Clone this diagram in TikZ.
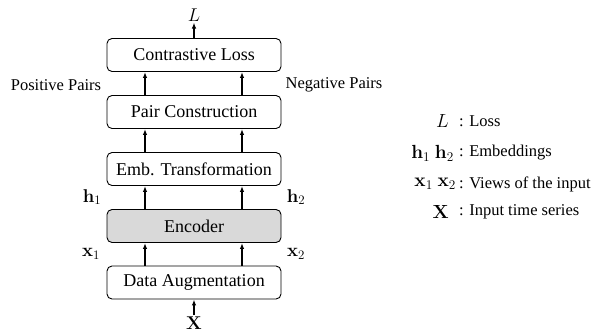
\RequirePackage{fix-cm}
\documentclass[tikz,border=0pt]{standalone}
\usepackage[no-math]{fontspec}
\setmainfont{Liberation Serif}
\usetikzlibrary{arrows.meta}
\definecolor{encgray}{RGB}{217,217,217}
\tikzset{
  blk/.style={draw, line width=0.9pt, rounded corners=5pt, minimum width=174pt, minimum height=33pt, inner sep=0pt, font=\fontsize{18}{20}\selectfont},
  arr/.style={line width=1.4pt, -{Latex[length=6pt,width=4.5pt]}},
  lbl/.style={inner sep=1pt, font=\fontsize{16.5}{19}\selectfont},
  mlbl/.style={inner sep=1pt, font=\fontsize{18.5}{20}\selectfont},
  leg/.style={inner sep=0pt, font=\fontsize{16.5}{20}\selectfont},
  legm/.style={inner sep=0pt, font=\fontsize{19}{22}\selectfont},
}
\begin{document}
\begin{tikzpicture}[x=1pt, y=-1pt]
\useasboundingbox (0,0) rectangle (599,333);
\node[blk] (cl) at (194,55) {Contrastive Loss};
\node[blk] (pc) at (194,112) {Pair Construction};
\node[blk] (et) at (194,169) {Emb. Transformation};
\node[blk, fill=encgray] (enc) at (194,226) {Encoder};
\node[blk] (da) at (194,282.5) {Data Augmentation};
\node[mlbl] (L) at (194,15) {$L$};
\node[mlbl] (X) at (194,323) {$\mathbf{X}$};
\draw[arr] (cl.north) -- (L.south);
\draw[arr] (X.north) -- (da.south);
\foreach \a/\b in {da/enc, enc/et, et/pc, pc/cl}{
  \draw[arr] ([xshift=-49pt]\a.north) -- ([xshift=-49pt]\b.south);
  \draw[arr] ([xshift=48pt]\a.north) -- ([xshift=48pt]\b.south);
}
\node[lbl] (pos) at (56,85) {Positive Pairs};
\node[lbl] (neg) at (334,85) {Negative Pairs};
\node[mlbl] (h1) at (92,197) {$\mathbf{h}_1$};
\node[mlbl] (h2) at (296,197) {$\mathbf{h}_2$};
\node[mlbl] (x1) at (91,254) {$\mathbf{x}_1$};
\node[mlbl] (x2) at (296,254) {$\mathbf{x}_2$};
% legend
\node[legm, anchor=east] (lL) at (449,121) {$L$};
\node[leg, anchor=west] (tL) at (459,121) {: Loss};
\node[legm, anchor=east] (lh) at (454,153) {$\mathbf{h}_1\ \mathbf{h}_2$};
\node[leg, anchor=west] (th) at (459,153) {: Embeddings};
\node[legm, anchor=east] (lx) at (456,184) {$\mathbf{x}_1\ \mathbf{x}_2$};
\node[leg, anchor=west] (tx) at (459,184) {: Views of the input};
\node[legm, anchor=east] (lX) at (449,212) {$\mathbf{X}$};
\node[leg, anchor=west] (tX) at (459,212) {: Input time series};
\end{tikzpicture}
\end{document}
